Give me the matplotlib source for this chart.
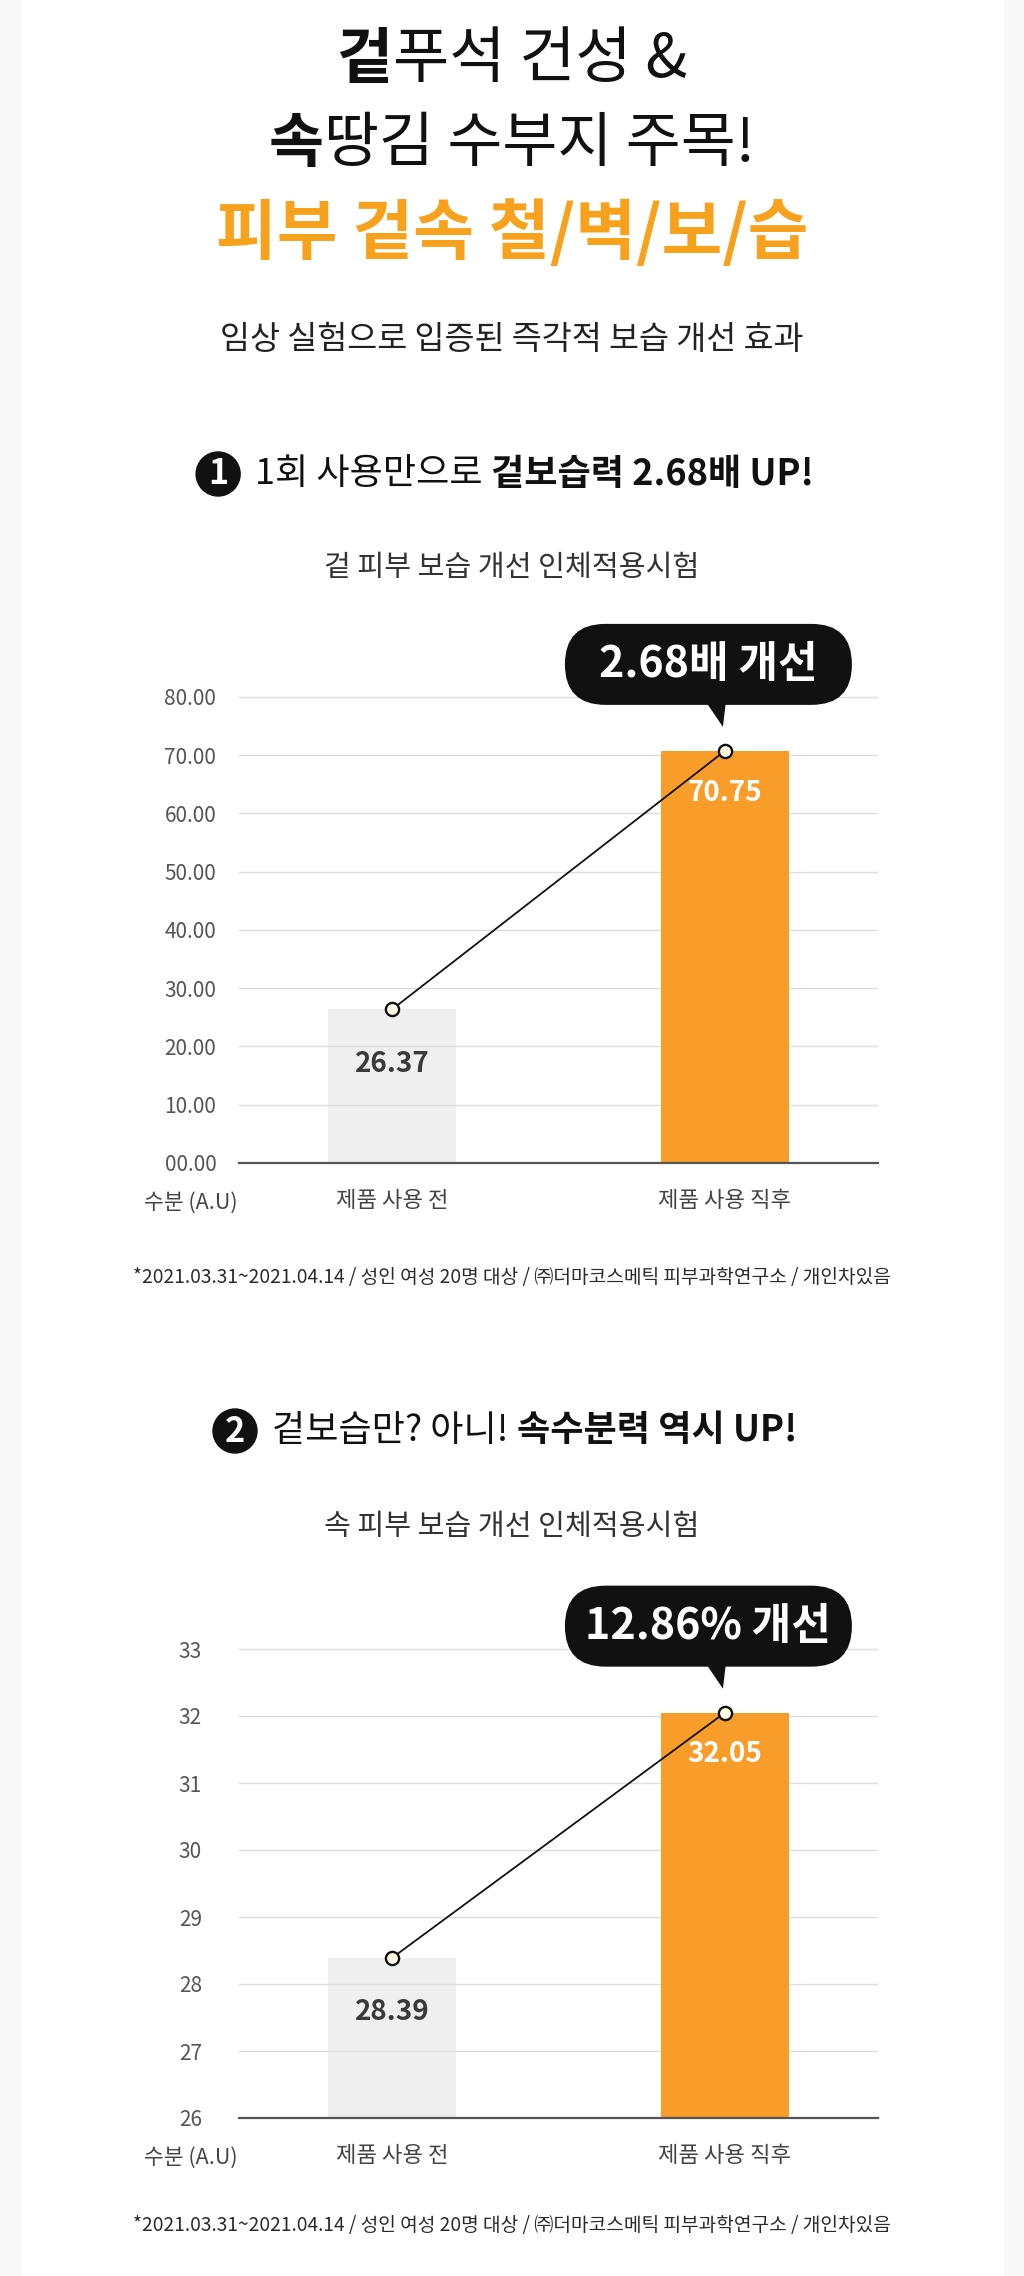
import matplotlib
matplotlib.use("Agg")
import matplotlib.pyplot as plt
from matplotlib import transforms as mtrans
from matplotlib.patches import FancyBboxPatch, Polygon, Rectangle, Circle

plt.rcParams['font.family'] = ['Noto Sans CJK KR', 'DejaVu Sans']

# ---------------- data ----------------
title_line1 = [("겉", "bold"), ("푸석 건성 &", "normal")]
title_line2 = [("속", "bold"), ("땅김 수부지 주목!", "normal")]
title_line3 = "피부 겉속 철/벽/보/습"
subtitle = "임상 실험으로 입증된 즉각적 보습 개선 효과"

heading1_num = "1"
heading1_regular = "1회 사용만으로"
heading1_bold = "겉보습력 2.68배 UP!"
chart1_title = "겉 피부 보습 개선 인체적용시험"

heading2_num = "2"
heading2_regular = "겉보습만? 아니!"
heading2_bold = "속수분력 역시 UP!"
chart2_title = "속 피부 보습 개선 인체적용시험"

categories = ["제품 사용 전", "제품 사용 직후"]
y_axis_label = "수분 (A.U)"

chart1_values = [26.37, 70.75]
chart1_ticks = [0, 10, 20, 30, 40, 50, 60, 70, 80]
chart1_tick_labels = ["00.00", "10.00", "20.00", "30.00", "40.00",
                      "50.00", "60.00", "70.00", "80.00"]
chart1_callout = "2.68배 개선"

chart2_values = [28.39, 32.05]
chart2_ticks = [26, 27, 28, 29, 30, 31, 32, 33]
chart2_tick_labels = ["26", "27", "28", "29", "30", "31", "32", "33"]
chart2_callout = "12.86% 개선"

footnote = "*2021.03.31~2021.04.14 / 성인 여성 20명 대상 / ㈜더마코스메틱 피부과학연구소 / 개인차있음"

# ---------------- style ----------------
W, H, DPI = 1024, 2276, 100
ORANGE_T = "#F8A11C"
ORANGE_B = "#F99D2A"
GRAY_B = "#EFEFEF"
BAR_COLORS = [GRAY_B, ORANGE_B]
LABEL_COLORS = ["#3a3a3a", "white"]
LABEL_OFFS = [39, 30]   # points below bar top
PX = 72.0 / DPI

fig = plt.figure(figsize=(W / DPI, H / DPI), dpi=DPI)
fig.patch.set_facecolor("white")
renderer = fig.canvas.get_renderer()

def fy(p):
    return 1 - p / H

def fx(p):
    return p / W

# side strips
fig.add_artist(Rectangle((0, 0), 20 / W, 1, transform=fig.transFigure,
                         color="#f8f8f8", zorder=0))
fig.add_artist(Rectangle((1 - 20 / W, 0), 20 / W, 1, transform=fig.transFigure,
                         color="#f8f8f8", zorder=0))


def text_width(s, size, weight):
    t = fig.text(0, 0, s, fontsize=size, fontweight=weight)
    w = t.get_window_extent(renderer).width
    t.remove()
    return w


def space_width(size, weight):
    return text_width("가 가", size, weight) - text_width("가가", size, weight)


def rich_line(y_px, segs, size, cx=512, circle=None):
    """segs: list of (text, weight, color, gap_before_in_spaces)"""
    widths = [text_width(s, size, w) for s, w, c, g in segs]
    gaps = [g * space_width(size, w) for s, w, c, g in segs]
    total = sum(widths) + sum(gaps)
    cdiam, cgap = 0, 0
    if circle is not None:
        cdiam, cgap = circle[1], circle[2]
        total += cdiam + cgap
    x = cx - total / 2
    if circle is not None:
        ccx = x + cdiam / 2
        fig.add_artist(Circle((ccx, H - y_px), cdiam / 2,
                              transform=mtrans.IdentityTransform(),
                              color="#111111", zorder=3))
        fig.text(fx(ccx), fy(y_px), circle[0], fontsize=size * 0.95,
                 fontweight="bold", color="white", ha="center", va="center",
                 zorder=4)
        x += cdiam + cgap
    for (s, w, c, g), wd, gp in zip(segs, widths, gaps):
        x += gp
        fig.text(fx(x), fy(y_px), s, fontsize=size, fontweight=w, color=c,
                 ha="left", va="center")
        x += wd


# ---------------- titles ----------------
rich_line(60, [(title_line1[0][0], title_line1[0][1], "#111111", 0),
               (title_line1[1][0], title_line1[1][1], "#111111", 0)], 44)
rich_line(145, [(title_line2[0][0], title_line2[0][1], "#111111", 0),
                (title_line2[1][0], title_line2[1][1], "#111111", 0)], 43)
fig.text(0.5, fy(234), title_line3, fontsize=47.5, fontweight="black",
         color=ORANGE_T, ha="center", va="center")
fig.text(0.5, fy(340), subtitle, fontsize=23.5, color="#222222",
         ha="center", va="center")


def chart(ax, values, ticks, tick_labels, callout):
    xs = list(range(len(categories)))
    for xi, v, col, z in zip(xs, values, BAR_COLORS, [1, 2]):
        ax.bar(xi, v, width=0.385, color=col, zorder=z)
    ax.set_axisbelow("line")
    ax.yaxis.grid(True, color="#dedede", lw=1.0)
    ax.set_xlim(-0.46, 1.46)
    ax.set_yticks(ticks, tick_labels)
    ax.set_xticks(xs, categories)
    for s in ["top", "left", "right"]:
        ax.spines[s].set_visible(False)
    ax.spines["bottom"].set_color("#555555")
    ax.spines["bottom"].set_linewidth(1.6)
    ax.spines["bottom"].set_zorder(2.6)
    ax.tick_params(axis="y", length=0, pad=35, labelsize=15,
                   labelcolor="#555555")
    for lab in ax.get_yticklabels():
        lab.set_ha("center")
    ax.tick_params(axis="x", length=0, pad=19, labelsize=16,
                   labelcolor="#444444")
    ax.annotate(y_axis_label, xy=(0, 0), xycoords="axes fraction",
                xytext=(-48 * PX, -40 * PX), textcoords="offset points",
                ha="center", va="center", fontsize=15.5, color="#444444",
                annotation_clip=False)
    ax.plot(xs, values, color="#111111", lw=1.3, zorder=3, clip_on=False)
    ax.plot(xs, values, "o", ms=9.5, mfc="#FFFCE6", mec="#111111", mew=1.7,
            zorder=4, clip_on=False)
    for xi, v, c, off in zip(xs, values, LABEL_COLORS, LABEL_OFFS):
        ax.annotate(f"{v:.2f}", xy=(xi, v), xytext=(0, -off),
                    textcoords="offset points", ha="center", va="center",
                    fontsize=20, fontweight="bold", color=c, zorder=5)
    # callout bubble anchored at last point, sized in pixels
    trans = mtrans.Affine2D() + mtrans.ScaledTranslation(xs[-1], values[-1],
                                                          ax.transData)
    ax.add_patch(FancyBboxPatch((-160, 46), 287, 81,
                                boxstyle="round,pad=0,rounding_size=40.5",
                                transform=trans, fc="#111111", ec="none",
                                clip_on=False, zorder=6))
    ax.add_patch(Polygon([(-19, 49), (1, 49), (-2, 24)], closed=True,
                         transform=trans, fc="#111111", ec="none",
                         clip_on=False, zorder=6))
    ax.text(-17, 87, callout, transform=trans, color="white", fontsize=31,
            fontweight="black", ha="center", va="center", zorder=7,
            clip_on=False)


# ---------------- chart 1 ----------------
rich_line(474, [(heading1_regular, "normal", "#111111", 0),
                (heading1_bold, "bold", "#111111", 1)], 26,
          cx=505, circle=(heading1_num, 44, 15))
fig.text(0.5, fy(568), chart1_title, fontsize=21, color="#333333",
         ha="center", va="center")
ax_left, ax_right = 239, 878
c1_bottom, c1_pxu, c1_top = 1163, 5.825, 84
ax1 = fig.add_axes([fx(ax_left), fy(c1_bottom), (ax_right - ax_left) / W,
                    c1_top * c1_pxu / H])
ax1.set_ylim(0, c1_top)
chart(ax1, chart1_values, chart1_ticks, chart1_tick_labels, chart1_callout)
fig.text(0.5, fy(1277), footnote, fontsize=13.8, color="#2a2a2a",
         ha="center", va="center")

# ---------------- chart 2 ----------------
rich_line(1431, [(heading2_regular, "normal", "#111111", 0),
                 (heading2_bold, "bold", "#111111", 1)], 26,
          cx=505, circle=(heading2_num, 44, 15))
fig.text(0.5, fy(1527), chart2_title, fontsize=21, color="#333333",
         ha="center", va="center")
c2_bottom, c2_pxu, c2_lo, c2_hi = 2118, 67.0, 26, 33.45
ax2 = fig.add_axes([fx(ax_left), fy(c2_bottom), (ax_right - ax_left) / W,
                    (c2_hi - c2_lo) * c2_pxu / H])
ax2.set_ylim(c2_lo, c2_hi)
chart(ax2, chart2_values, chart2_ticks, chart2_tick_labels, chart2_callout)
fig.text(0.5, fy(2225), footnote, fontsize=13.8, color="#2a2a2a",
         ha="center", va="center")

fig.savefig("out.png", dpi=DPI, facecolor="white")
